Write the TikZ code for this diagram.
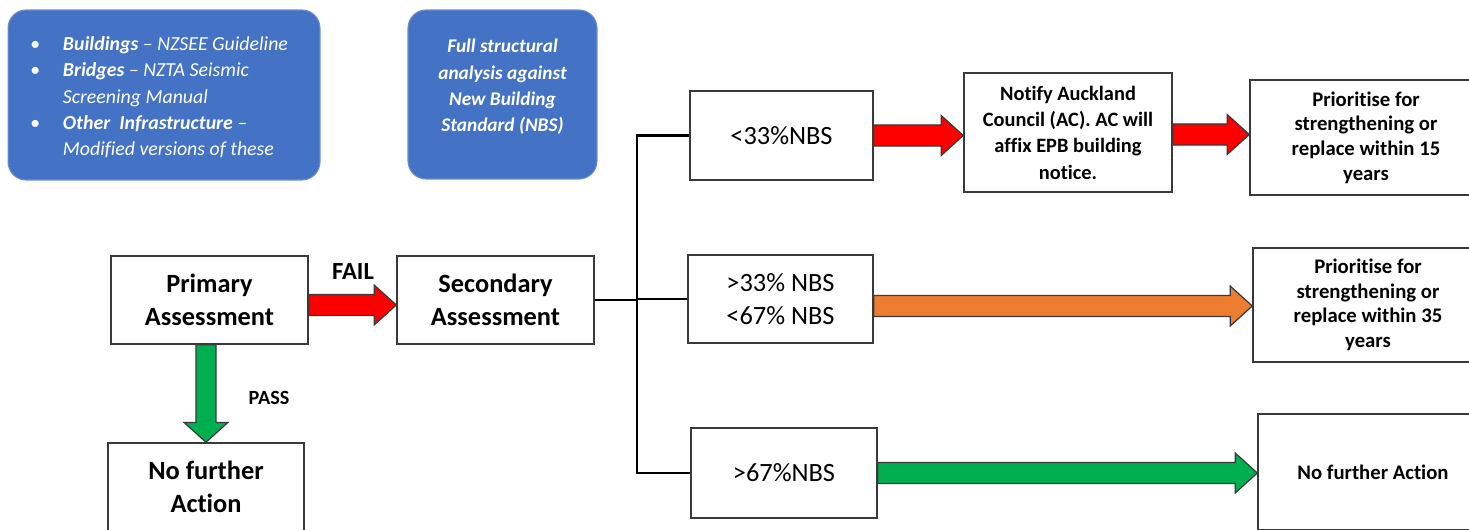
\documentclass[tikz,border=0pt]{standalone}
\usepackage{fontspec}
\setmainfont{Carlito}[Ligatures={NoCommon}]
\usetikzlibrary{calc}

\definecolor{boxblue}{HTML}{4472C4}
\definecolor{failred}{HTML}{FF0000}
\definecolor{midorange}{HTML}{ED7D31}
\definecolor{passgreen}{HTML}{00B050}
\definecolor{edge}{HTML}{3A3A3A}

\tikzstyle{stage}=[draw=edge, line width=0.85pt, fill=white, align=center, inner sep=2pt, font=\fontsize{15pt}{18.7pt}\selectfont\bfseries]
\tikzstyle{band}=[stage, font=\fontsize{15pt}{18.7pt}\selectfont]
\tikzstyle{outcome}=[stage, font=\fontsize{11.8pt}{14pt}\selectfont\bfseries]
\tikzstyle{note}=[draw=boxblue!80!white, fill=boxblue, rounded corners=0.36cm, line width=0.6pt]
\tikzstyle{notetext}=[text=white, font=\fontsize{11.3pt}{15pt}\selectfont\itshape]
\tikzstyle{trunk}=[draw=black, line width=1.2pt]
\tikzstyle{fat}=[draw=edge, line width=0.7pt, line join=miter]

% block arrows, tail at #1, tip at #2
\newcommand{\hfat}[3]{%
  \draw[fat, fill=#3] let \p1=(#1), \p2=(#2) in
    (\x1,\y1+6pt) -- (\x2-12.5pt,\y1+6pt) -- (\x2-12.5pt,\y1+11.3pt) -- (\x2,\y1)
    -- (\x2-12.5pt,\y1-11.3pt) -- (\x2-12.5pt,\y1-6pt) -- (\x1,\y1-6pt) -- cycle;}
\newcommand{\vfat}[3]{%
  \draw[fat, fill=#3] let \p1=(#1), \p2=(#2) in
    (\x2-5.7pt,\y1) -- (\x2-5.7pt,\y2+11.3pt) -- (\x2-12.5pt,\y2+11.3pt) -- (\x2,\y2)
    -- (\x2+12.5pt,\y2+11.3pt) -- (\x2+5.7pt,\y2+11.3pt) -- (\x2+5.7pt,\y1) -- cycle;}

\begin{document}
\begin{tikzpicture}[x=0.02cm, y=-0.02cm]
\useasboundingbox (0,0) rectangle (1469,530);
\fill[white] (0,0) rectangle (1469,530);

\node[note, minimum width=6.24cm, minimum height=3.4cm] (methods) at (164,95) {};
\node[notetext, anchor=west] (methodstext) at (24,98)
  {\begin{tabular}{@{}l@{\hspace{13pt}}l@{}}
   \textbullet & \textbf{Buildings} – NZSEE Guideline\\
   \textbullet & \textbf{Bridges} – NZTA Seismic\\
               & Screening Manual\\
   \textbullet & \textbf{Other\ \ Infrastructure} –\\
               & Modified versions of these
   \end{tabular}};
\node[note, minimum width=3.78cm, minimum height=3.38cm] (fullnbs) at (502.5,94.5) {};
\node[notetext, align=center, font=\fontsize{11pt}{15pt}\selectfont\bfseries\itshape] (fullnbstext) at (502.5,87)
  {Full structural\\analysis against\\New Building\\Standard (NBS)};

\node[stage, minimum width=3.94cm, minimum height=1.76cm] (primary) at (209.5,300) {Primary\\Assessment};
\node[stage, minimum width=3.94cm, minimum height=1.76cm] (secondary) at (495.5,300) {Secondary\\Assessment};
\node[stage, minimum width=3.92cm, minimum height=1.76cm] (nfa) at (206,487) {No further\\Action};

\node[band, minimum width=3.66cm, minimum height=1.78cm] (low) at (781.5,135.5) {<33\%NBS};
\node[band, minimum width=3.7cm, minimum height=1.76cm] (middle) at (780.5,299) {>33\% NBS\\<67\% NBS};
\node[band, minimum width=3.72cm, minimum height=1.8cm] (high) at (784,473) {>67\%NBS};

\node[outcome, minimum width=4.16cm, minimum height=2.38cm, font=\fontsize{11.6pt}{15pt}\selectfont\bfseries] (notify) at (1068,132.5)
  {Notify Auckland\\Council (AC). AC will\\affix EPB building\\notice.};
\node[outcome, minimum width=4.64cm, minimum height=2.3cm] (pri15) at (1366,137.5) {Prioritise for\\strengthening or\\replace within 15\\years};
\node[outcome, minimum width=4.6cm, minimum height=2.28cm] (pri35) at (1368,305) {Prioritise for\\strengthening or\\replace within 35\\years};
\node[outcome, minimum width=4.6cm, minimum height=2.32cm] (nfa2) at (1373,472) {No further Action};

\node[font=\fontsize{14pt}{16pt}\selectfont\bfseries] (faillbl) at (353,272) {FAIL};
\node[font=\fontsize{11.5pt}{14pt}\selectfont\bfseries] (passlbl) at (269,398) {PASS};

\coordinate (fork) at (637,300);
\draw[trunk] (secondary.east) -- (fork);
\draw[trunk] (low.west) -| (fork) |- (high.west);
\draw[trunk] (fork |- middle.west) -- (middle.west);

\hfat{$(primary.east)+(0,5)$}{secondary.west}{failred}
\vfat{nfa.north |- primary.south}{nfa.north}{passgreen}
\hfat{low.east}{notify.west}{failred}
\hfat{$(notify.east)+(0,2)$}{pri15.west}{failred}
\hfat{$(middle.east)+(0,7)$}{pri35.west}{midorange}
\hfat{high.east}{nfa2.west}{passgreen}
\end{tikzpicture}
\end{document}
